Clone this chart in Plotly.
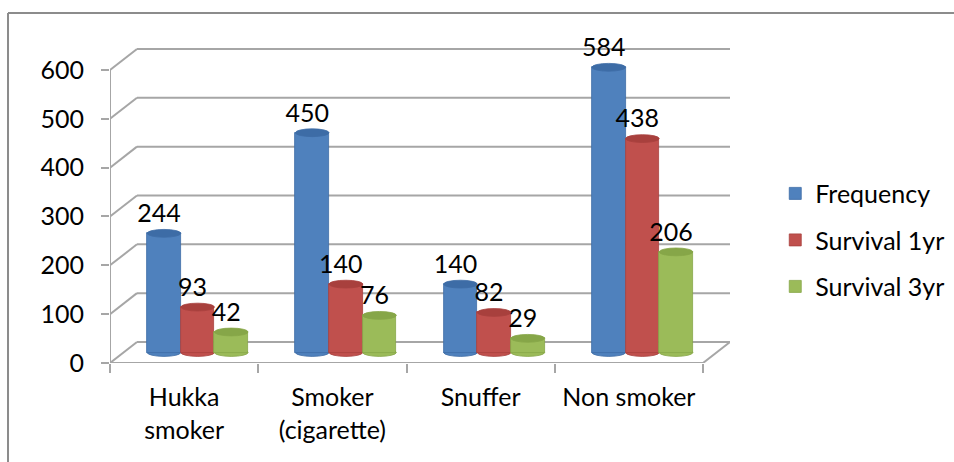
import plotly.graph_objects as go

categories = ["Hukka<br>smoker", "Smoker<br>(cigarette)", "Snuffer", "Non smoker"]
series_names = ["Frequency", "Survival 1yr", "Survival 3yr"]
frequency = [244, 450, 140, 584]
survival_1yr = [93, 140, 82, 438]
survival_3yr = [42, 76, 29, 206]
y_ticks = [0, 100, 200, 300, 400, 500, 600]

series_values = [frequency, survival_1yr, survival_3yr]
colors = ["#4F81BD", "#C0504D", "#9BBB59"]
cap_colors = ["#3D6CA6", "#A8403D", "#86A648"]

FONT = "Lato"
FS = 25
GRID = "#A6A6A6"

# pseudo-3D geometry (axis units)
DX = 0.182        # depth offset along x
DY = 43.0         # depth offset along y
HDX, HDY = DX / 2, DY / 2
BW = 0.227        # bar width
CAP = 8.0         # half height of the elliptical cap
XMIN, XMAX = -0.5, len(categories) - 0.5

fig = go.Figure()
shapes = []

# back wall gridlines + left wall diagonals
for v in y_ticks:
    shapes.append(dict(type="line", xref="x", yref="y", x0=XMIN + DX, x1=XMAX + DX,
                       y0=v + DY, y1=v + DY, line=dict(color=GRID, width=2), layer="below"))
    shapes.append(dict(type="line", xref="x", yref="y", x0=XMIN, x1=XMIN + DX,
                       y0=v, y1=v + DY, line=dict(color=GRID, width=2), layer="below"))
# floor front edge and right diagonal
shapes.append(dict(type="line", xref="x", yref="y", x0=XMIN, x1=XMAX, y0=0, y1=0,
                   line=dict(color=GRID, width=2), layer="below"))
shapes.append(dict(type="line", xref="x", yref="y", x0=XMAX, x1=XMAX + DX, y0=0, y1=DY,
                   line=dict(color=GRID, width=2), layer="below"))
# front value axis line
shapes.append(dict(type="line", xref="x", yref="y", x0=XMIN, x1=XMIN, y0=0, y1=y_ticks[-1],
                   line=dict(color=GRID, width=2), layer="below"))

for j, (name, vals) in enumerate(zip(series_names, series_values)):
    xs = [i + HDX + (j - 1) * BW for i in range(len(categories))]
    fig.add_trace(go.Bar(
        x=xs, y=vals, base=[HDY] * len(vals), width=BW, name=name,
        marker=dict(color=colors[j], line=dict(color=cap_colors[j], width=0.8)),
        legendgroup=name, hoverinfo="name+text", hovertext=[str(v) for v in vals],
    ))
    for x, v in zip(xs, vals):
        # rounded bottom
        shapes.append(dict(type="circle", xref="x", yref="y", x0=x - BW / 2, x1=x + BW / 2,
                           y0=HDY - CAP, y1=HDY + CAP, fillcolor=colors[j],
                           line=dict(color=cap_colors[j], width=0.8), layer="below"))
        # top cap
        shapes.append(dict(type="circle", xref="x", yref="y", x0=x - BW / 2, x1=x + BW / 2,
                           y0=HDY + v - CAP, y1=HDY + v + CAP, fillcolor=cap_colors[j],
                           line=dict(color=cap_colors[j], width=0.8), layer="above"))
    fig.add_trace(go.Scatter(
        x=[x - 0.034 for x in xs], y=[HDY + v + CAP + 2 for v in vals], mode="text",
        text=[str(v) for v in vals], textposition="top center",
        textfont=dict(family=FONT, size=FS, color="#000000"),
        showlegend=False, hoverinfo="skip", cliponaxis=False,
    ))

# outer chart border (top and left edges visible)
shapes.append(dict(type="line", xref="paper", yref="paper", x0=-0.1645, x1=1.4,
                   y0=1.111, y1=1.111, line=dict(color="#8C8C8C", width=2)))
shapes.append(dict(type="line", xref="paper", yref="paper", x0=-0.1645, x1=-0.1645,
                   y0=1.111, y1=-0.4, line=dict(color="#8C8C8C", width=2)))

fig.update_layout(
    width=954, height=462,
    margin=dict(l=110, r=224, t=48, b=99, autoexpand=False),
    paper_bgcolor="white", plot_bgcolor="white",
    barmode="overlay", bargap=0,
    font=dict(family=FONT, size=FS, color="#000000"),
    shapes=shapes,
    showlegend=True,
    legend=dict(x=1.073, xanchor="left", y=0.39, yanchor="middle",
                font=dict(family=FONT, size=FS), tracegroupgap=11,
                bgcolor="rgba(0,0,0,0)"),
    xaxis=dict(range=[XMIN, XMAX + DX], showgrid=False, zeroline=False, showline=False,
               tickmode="array", tickvals=list(range(len(categories))), ticktext=categories,
               ticks="", ticklabelstandoff=17,
               minor=dict(tickmode="array", tickvals=[i - 0.5 for i in range(len(categories) + 1)],
                          ticks="outside", ticklen=9, tickcolor=GRID, tickwidth=2, showgrid=False)),
    yaxis=dict(range=[0, 645], showgrid=False, zeroline=False, showline=False,
               tickmode="array", tickvals=y_ticks, ticks="outside", ticklen=8,
               tickcolor=GRID, tickwidth=2, ticklabelstandoff=12),
)

fig.write_html("out.html")
